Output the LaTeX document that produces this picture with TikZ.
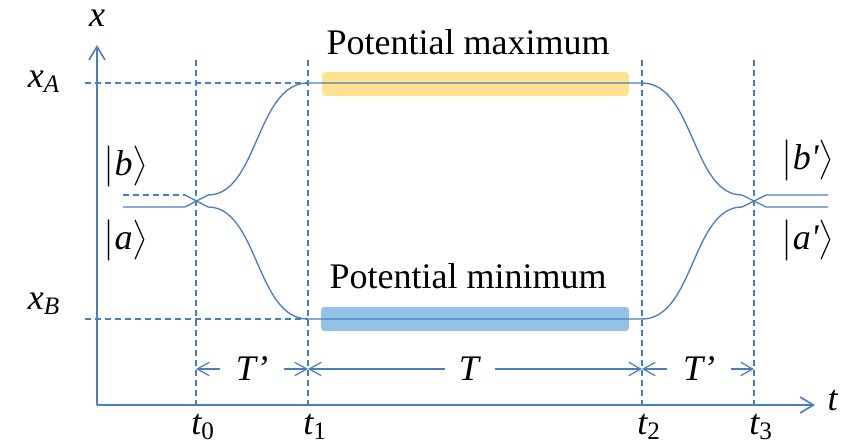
\documentclass[tikz,border=0pt]{standalone}
\usepackage{fix-cm}
\usepackage{amsmath}
\usepackage{textcomp}
\usepackage{fontspec}
\setmainfont{Liberation Serif}
\usetikzlibrary{arrows.meta}
\definecolor{lineblue}{HTML}{4A7EC2}
\definecolor{baryellow}{HTML}{FFE38F}
\definecolor{barblue}{HTML}{94C1E6}
\tikzset{
  axis/.style={draw=lineblue, line width=1.6pt, -{Straight Barb[length=10pt,width=12pt,line width=1.2pt]}},
  curve/.style={draw=lineblue, line width=1pt},
  guide/.style={draw=lineblue, line width=1pt, dash pattern=on 4.5pt off 3pt},
  dimarrow/.style={draw=lineblue, line width=0.9pt, -{Straight Barb[length=9pt,width=10pt,line width=0.9pt]}},
  bar/.style={rounded corners=2.5pt, draw=none},
  lbl/.style={inner sep=0pt, text=black},
  gap/.style={inner sep=0pt, minimum height=10pt, text=black}
}
\newcommand{\ket}[1]{$\bigl|\textit{#1}\bigr\rangle$}
\begin{document}
\begin{tikzpicture}[x=0.75pt, y=-0.75pt, font=\fontsize{27}{30}\selectfont]
\useasboundingbox (0,0) rectangle (843,447);
% bars
\fill[bar, baryellow] (322,72) rectangle (629,96);
\fill[bar, barblue] (321,307) rectangle (629,331);
% coordinates
\coordinate (o) at (97,405);
\coordinate (ytip) at (97,45);
\coordinate (xtip) at (815,405);
\foreach \n/\x in {0/196,1/308,2/642,3/754}{
  \coordinate (top\n) at (\x,60);
  \coordinate (bot\n) at (\x,405);
  \coordinate (d\n) at (\x,369);
}
\coordinate (xa0) at (85,83);
\coordinate (xb0) at (85,319);
% guide lines
\draw[guide] (top0) -- (bot0);
\draw[guide] (top1) -- (bot1);
\draw[guide] (top2) -- (bot2);
\draw[guide] (top3) -- (bot3);
\draw[guide] (xa0) -- (308,83);
\draw[guide] (xb0) -- (308,319);
\draw[guide] (123,195) -- (185,195);
% axes
\draw[axis] (o) -- (ytip);
\draw[axis] (o) -- (xtip);
% curves
\draw[curve] (123,207) -- (185,207) -- (208,195)
  .. controls (258,195) and (256,83) .. (308,83) -- (642,83)
  .. controls (694,83) and (692,195) .. (742,195) -- (766,207) -- (828,207);
\draw[curve] (185,195) -- (208,207)
  .. controls (258,207) and (256,319) .. (308,319) -- (642,319)
  .. controls (694,319) and (692,207) .. (742,207) -- (766,195) -- (828,195);
% labels
\node[lbl] (xl) at (97,18) {\textit{x}};
\node[lbl] (tl) at (833,401) {\textit{t}};
\node[lbl] (xA) at (44,82) {$\textit{x}_{\textit{A}}$};
\node[lbl] (xB) at (44,304) {$\textit{x}_{\textit{B}}$};
\node[lbl] (kb) at (126,166) {\ket{b}};
\node[lbl] (ka) at (126,240) {\ket{a}};
\node[lbl] (kbp) at (808,160) {\ket{b\textquotesingle}};
\node[lbl] (kap) at (808,240) {\ket{a\textquotesingle}};
\node[lbl] (pmax) at (468,42) {Potential maximum};
\node[lbl] (pmin) at (468,276) {Potential minimum};
\node[lbl] (t0) at (203,427) {$\textit{t}_{\textrm{0}}$};
\node[lbl] (t1) at (315,427) {$\textit{t}_{\textrm{1}}$};
\node[lbl] (t2) at (649,427) {$\textit{t}_{\textrm{2}}$};
\node[lbl] (t3) at (761,427) {$\textit{t}_{\textrm{3}}$};
% dimension labels
\node[gap, minimum width=48pt] (Tp1) at (252,369) {\textit{T’}};
\node[gap, minimum width=37pt] (Tm) at (470,369) {\textit{T}};
\node[gap, minimum width=48pt] (Tp2) at (699,369) {\textit{T’}};
\draw[dimarrow] (Tp1.west) -- (d0);
\draw[dimarrow] (Tp1.east) -- (d1);
\draw[dimarrow] (Tm.west) -- (d1);
\draw[dimarrow] (Tm.east) -- (d2);
\draw[dimarrow] (Tp2.west) -- (d2);
\draw[dimarrow] (Tp2.east) -- (d3);
\end{tikzpicture}
\end{document}
